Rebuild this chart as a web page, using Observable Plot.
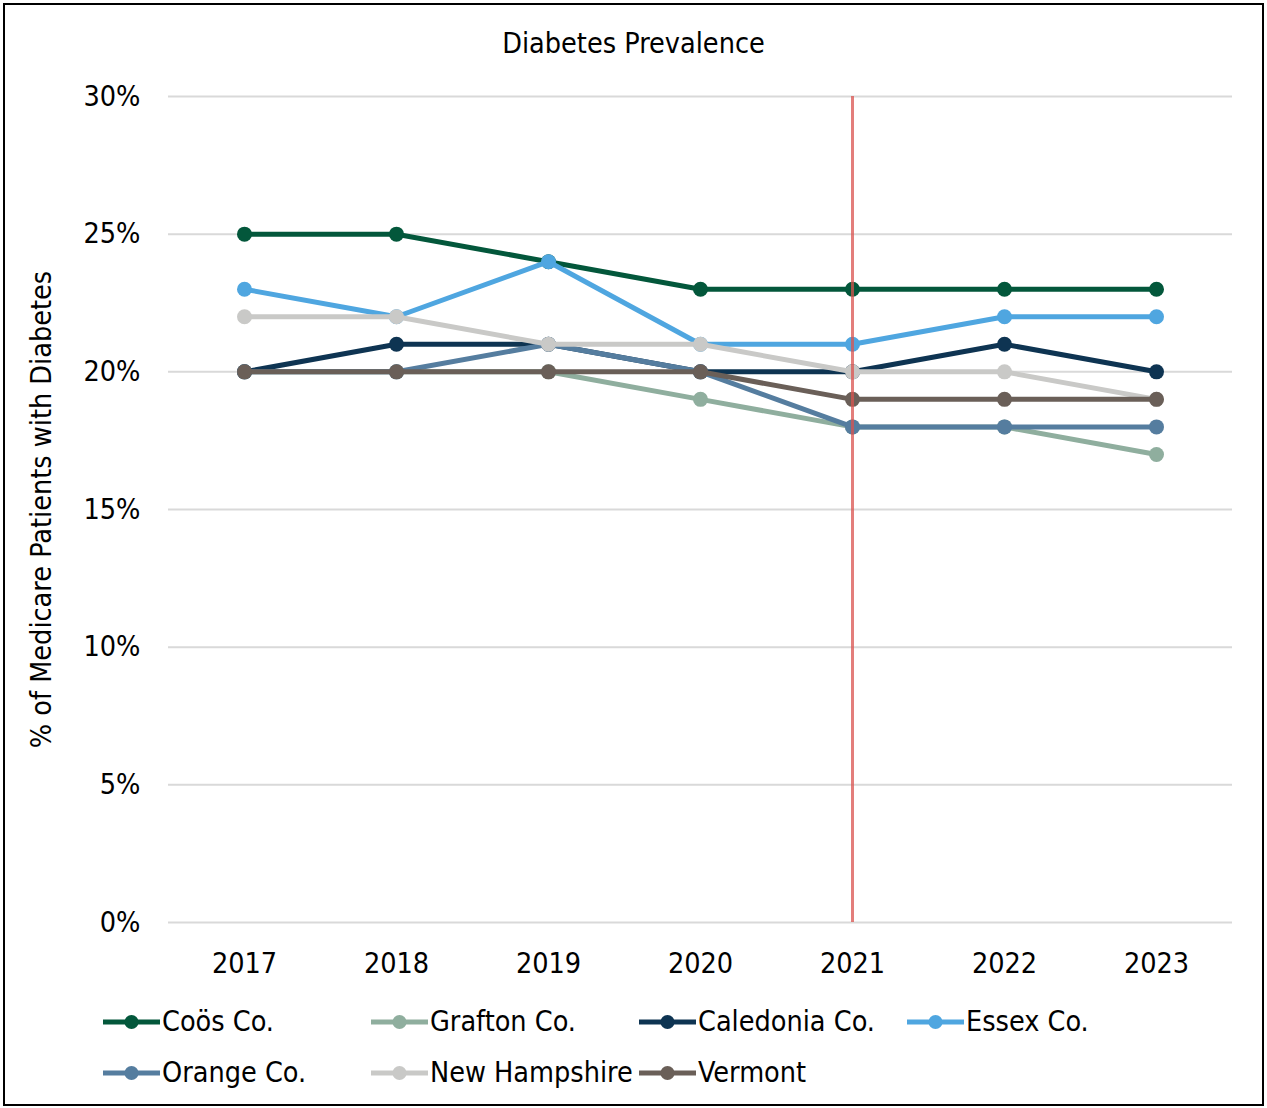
<!DOCTYPE html>
<html>
<head>
<meta charset="utf-8">
<script src="https://cdn.jsdelivr.net/npm/d3@7"></script>
<script src="https://cdn.jsdelivr.net/npm/@observablehq/plot@0.6"></script>
<style>
  html, body { margin: 0; padding: 0; background: #fff; }
  body { width: 1267px; height: 1108px; position: relative; overflow: hidden;
         font-family: "DejaVu Sans Condensed", "DejaVu Sans", sans-serif; }
  #frame { position: absolute; left: 3px; top: 3px; width: 1257px; height: 1099px;
           border: 2px solid #000; box-sizing: content-box; }
  #title { position: absolute; left: 0; width: 1267px; top: 25px; text-align: center;
           font-size: 28.5px; color: #000; line-height: 38px; }
  #chart { position: absolute; left: 0; top: 0; }
  #legend { position: absolute; left: 103px; top: 996px; width: 1100px; }
  .row { display: flex; height: 51px; align-items: center; }
  .item { width: 268px; display: flex; align-items: center; font-size: 28.5px; color: #000; white-space: nowrap; }
  .item svg { flex: none; margin-right: 2px; }
</style>
</head>
<body>
<div id="frame"></div>
<div id="chart"></div>
<div id="title">Diabetes Prevalence</div>
<div id="legend"></div>
<script>
const years = ["2017", "2018", "2019", "2020", "2021", "2022", "2023"];
const seriesNames = ["Coös Co.", "Grafton Co.", "Caledonia Co.", "Essex Co.", "Orange Co.", "New Hampshire", "Vermont"];
const seriesColors = ["#03573b", "#8fae9e", "#0e3452", "#4fa6e0", "#557d9f", "#c9c9c7", "#6a5f58"];
const coos      = [0.25, 0.25, 0.24, 0.23, 0.23, 0.23, 0.23];
const grafton   = [0.20, 0.20, 0.20, 0.19, 0.18, 0.18, 0.17];
const caledonia = [0.20, 0.21, 0.21, 0.20, 0.20, 0.21, 0.20];
const essex     = [0.23, 0.22, 0.24, 0.21, 0.21, 0.22, 0.22];
const orange    = [0.20, 0.20, 0.21, 0.20, 0.18, 0.18, 0.18];
const newHampshire = [0.22, 0.22, 0.21, 0.21, 0.20, 0.20, 0.19];
const vermont   = [0.20, 0.20, 0.20, 0.20, 0.19, 0.19, 0.19];
const yTicks = [0, 0.05, 0.10, 0.15, 0.20, 0.25, 0.30];
const markerYear = ["2021"];

const seriesValues = [coos, grafton, caledonia, essex, orange, newHampshire, vermont];
const data = [];
seriesNames.forEach((name, i) => {
  seriesValues[i].forEach((v, j) => data.push({series: name, year: years[j], value: v}));
});

const fontFamily = '"DejaVu Sans Condensed", "DejaVu Sans", sans-serif';

const seriesMarks = seriesNames.flatMap(name => {
  const d = data.filter(r => r.series === name);
  return [
    Plot.lineY(d, {x: "year", y: "value", stroke: "series", strokeWidth: 5}),
    Plot.dot(d, {x: "year", y: "value", fill: "series", r: 7.5, stroke: "none"})
  ];
});

const chart = Plot.plot({
  width: 1267,
  height: 1108,
  marginTop: 96,
  marginBottom: 186,
  marginLeft: 168,
  marginRight: 35,
  style: {fontFamily, background: "transparent", color: "#000"},
  x: {type: "point", domain: years, padding: 0.5},
  y: {domain: [0, 0.30]},
  color: {domain: seriesNames, range: seriesColors},
  marks: [
    Plot.gridY(yTicks, {stroke: "#d9d9d9", strokeOpacity: 1, strokeWidth: 2}),
    Plot.axisY(yTicks, {tickSize: 0, tickPadding: 28, fontSize: 28.5, tickFormat: d3.format(".0%"),
      label: "% of Medicare Patients with Diabetes", labelAnchor: "center", labelArrow: "none", labelOffset: 138}),
    Plot.axisX({tickSize: 0, tickPadding: 30, fontSize: 28.5, label: null}),
    ...seriesMarks,
    Plot.ruleX(markerYear, {stroke: "#d9534f", strokeWidth: 3, strokeOpacity: 0.75})
  ]
});
document.getElementById("chart").appendChild(chart);

const legend = document.getElementById("legend");
const rows = [seriesNames.slice(0, 4), seriesNames.slice(4)];
rows.forEach(rowNames => {
  const row = document.createElement("div");
  row.className = "row";
  rowNames.forEach(name => {
    const c = seriesColors[seriesNames.indexOf(name)];
    const item = document.createElement("div");
    item.className = "item";
    item.innerHTML = `<svg width="57" height="18"><line x1="0" y1="9" x2="57" y2="9" stroke="${c}" stroke-width="5"/><circle cx="28.5" cy="9" r="7" fill="${c}"/></svg><span>${name}</span>`;
    row.appendChild(item);
  });
  legend.appendChild(row);
});
</script>
</body>
</html>
